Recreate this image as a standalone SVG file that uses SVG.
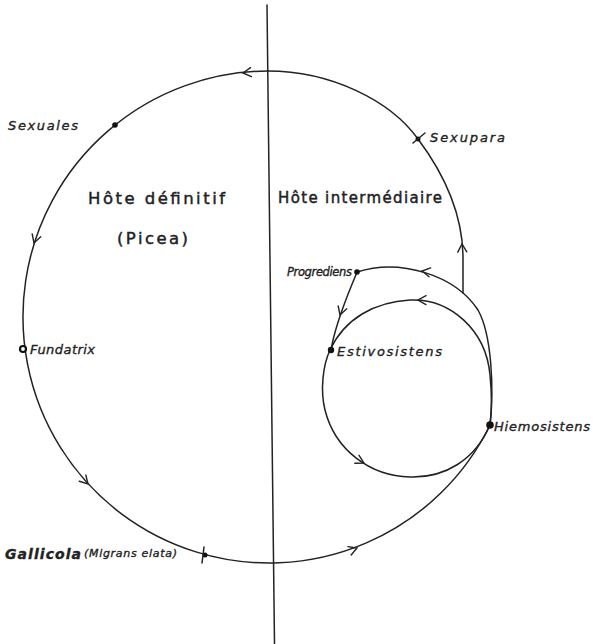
<svg xmlns="http://www.w3.org/2000/svg" xmlns:xlink="http://www.w3.org/1999/xlink" width="593" height="644" viewBox="0 0 593 644">
<style>
.ln{fill:none;stroke:#222;stroke-width:1.5;stroke-linecap:round}
.ar{fill:none;stroke:#222;stroke-width:1.4;stroke-linecap:round;stroke-linejoin:miter}
.dot{fill:#111}
.lab{font-family:"DejaVu Sans","Liberation Sans",sans-serif;font-style:italic;font-size:13px;fill:#222;stroke:#222;stroke-width:0.35}
.host{font-family:"DejaVu Sans","Liberation Sans",sans-serif;font-size:16.5px;fill:#222;stroke:#222;stroke-width:0.45}
</style>
<defs>
<path id="arr" class="ar" d="M-8 -4.5 L0 0 L-8 4.5"/>
</defs>
<rect width="593" height="644" fill="#fff"/>
<g id="connectors">
<line class="ln" x1="267" y1="5" x2="274.5" y2="644"/>
<path class="ln" d="M490 425 A246 246 0 1 1 268 71"/>
<path class="ln" d="M268 71 C330 71 390 100 418 139 C445 175 462 215 463 255 L463 293"/>
<path class="ln" d="M357 272 C400 258 455 275 478 310 C492 335 494 390 490 425"/>
<path class="ln" d="M357 272 C350 290 336 320 331 350"/>
<path class="ln" d="M330 350 C345 318 375 302 410 300 C450 298 486 330 490 375 C492 395 492 410 490 425 C475 460 445 478 410 477 C370 476 335 450 325 410 C320 390 323 365 330 350 Z"/>
<use xlink:href="#arr" transform="translate(243,73) rotate(174)"/>
<use xlink:href="#arr" transform="translate(34,243) rotate(108)"/>
<use xlink:href="#arr" transform="translate(88,484) rotate(47)"/>
<use xlink:href="#arr" transform="translate(357,548) rotate(-21)"/>
<use xlink:href="#arr" transform="translate(462,244) rotate(-92)"/>
<use xlink:href="#arr" transform="translate(422,271) rotate(190)"/>
<use xlink:href="#arr" transform="translate(340,315) rotate(108)"/>
<use xlink:href="#arr" transform="translate(418,300) rotate(181)"/>
<use xlink:href="#arr" transform="translate(364,463) rotate(28)"/>
</g>
<g id="sexuales"><circle class="dot" cx="115" cy="125" r="2.8"/><text class="lab" x="8" y="130" textLength="70">Sexuales</text></g>
<g id="sexupara"><circle class="dot" cx="418" cy="139" r="2.5"/><line class="ln" x1="413" y1="143" x2="425" y2="133"/><text class="lab" x="430" y="142" textLength="75">Sexupara</text></g>
<g id="hote-definitif"><text class="host" x="88" y="204" textLength="137">Hôte définitif</text><text class="host" x="117" y="244" textLength="71">(Picea)</text></g>
<g id="hote-intermediaire"><text class="host" x="278" y="203" textLength="164" style="font-size:15px">Hôte intermédiaire</text></g>
<g id="progrediens"><circle class="dot" cx="357" cy="272" r="2.8"/><text class="lab" x="287" y="276" textLength="65" style="font-size:11.5px">Progrediens</text></g>
<g id="estivosistens"><circle class="dot" cx="331" cy="350" r="3.2"/><text class="lab" x="337" y="356" textLength="105">Estivosistens</text></g>
<g id="hiemosistens"><circle class="dot" cx="490" cy="425" r="3.8"/><text class="lab" x="494" y="431" textLength="96">Hiemosistens</text></g>
<g id="fundatrix"><circle cx="23" cy="349" r="3" fill="#fff" stroke="#111" stroke-width="2.2"/><text class="lab" x="30" y="354" textLength="65">Fundatrix</text></g>
<g id="gallicola"><circle class="dot" cx="205" cy="555" r="2.5"/><line class="ln" x1="204" y1="547" x2="202" y2="563"/><text class="lab" x="5" y="559" textLength="76" style="font-size:14px;font-weight:bold">Gallicola</text><text class="lab" x="84" y="557" textLength="93" style="font-size:11px">(Migrans elata)</text></g>
</svg>
